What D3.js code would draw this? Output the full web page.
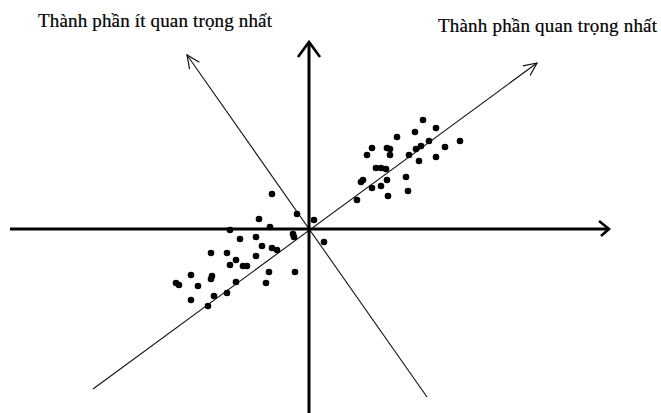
<!DOCTYPE html>
<html>
<head>
<meta charset="utf-8">
<script src="https://cdn.jsdelivr.net/npm/d3@7"></script>
<style>
  body { margin: 0; background: #fff; }
  svg { display: block; }
  .label { font-family: "Liberation Serif", "Times New Roman", serif; font-size: 19px; fill: #000; stroke: #000; stroke-width: 0.2px; }
</style>
</head>
<body>
<div id="chart"></div>
<script>
// values are offsets from the origin (x right, y up)
var upperX = [114, 106, 127, 88, 120, 151, 136, 107, 112, 63, 78, 81, 58, 81, 100, 127, 110, 67, 72, 77, 97, 54, 52, 78, 63, 72, 99, 79, 48];
var upperY = [109, 97, 101, 92, 88, 88, 82, 80, 83, 81, 81, 80, 74, 74, 74, 72, 68, 61, 61, 60, 52, 49, 47, 49, 41, 43, 38, 33, 29];

var lowerX = [-37, -12, -50, 5, -39, -79, -16, -15, 15, -69, -53, -47, -37, -32, -98, -82, -53, -73, -79, -66, -62, -40, -14, -118, -97, -98, -133, -130, -111, -73, -43, -118, -95, -82, -101];
var lowerY = [35, 15, 10, 9, 2, -1, -5, -8, -13, -10, -8, -17, -19, -21, -24, -24, -27, -31, -36, -37, -37, -43, -43, -46, -47, -50, -54, -56, -57, -53, -54, -71, -67, -64, -77];

// axis extents and the two component directions
var axisH = [[-299, 0], [300, 0]];
var axisV = [[0, -184], [0, 187]];
var pc1 = [[-216, -160], [228, 166]];
var pc2 = [[118, -168], [-122, 174]];

var labelPc2 = "Thành phần ít quan trọng nhất";
var labelPc1 = "Thành phần quan trọng nhất";

var chart = {
    w: 661,
    h: 413
};

chart.svg = d3.select("#chart")
    .append("svg")
    .attr("width", chart.w)
    .attr("height", chart.h);

chart.xScale = d3.scaleLinear()
    .domain([-309, 352])
    .range([0, chart.w]);

chart.yScale = d3.scaleLinear()
    .domain([-184, 229])
    .range([chart.h, 0]);

var defs = chart.svg.append("defs");

defs.append("marker")
    .attr("id", "thinArrow")
    .attr("markerUnits", "userSpaceOnUse")
    .attr("viewBox", "-16 -8 18 16")
    .attr("markerWidth", 18)
    .attr("markerHeight", 16)
    .attr("refX", 0)
    .attr("refY", 0)
    .attr("orient", "auto")
    .append("path")
    .attr("d", "M-13,-6L0,0L-13,6")
    .attr("fill", "none")
    .attr("stroke", "#111")
    .attr("stroke-width", 1.2);

defs.append("marker")
    .attr("id", "thickArrowV")
    .attr("markerUnits", "userSpaceOnUse")
    .attr("viewBox", "-18 -14 22 28")
    .attr("markerWidth", 22)
    .attr("markerHeight", 28)
    .attr("refX", 0)
    .attr("refY", 0)
    .attr("orient", "auto")
    .append("path")
    .attr("d", "M-15,-11L0,0L-15,11")
    .attr("fill", "none")
    .attr("stroke", "#000")
    .attr("stroke-width", 2.6);

defs.append("marker")
    .attr("id", "thickArrowH")
    .attr("markerUnits", "userSpaceOnUse")
    .attr("viewBox", "-14 -10 18 20")
    .attr("markerWidth", 18)
    .attr("markerHeight", 20)
    .attr("refX", 0)
    .attr("refY", 0)
    .attr("orient", "auto")
    .append("path")
    .attr("d", "M-10,-8L0,0L-8,7")
    .attr("fill", "none")
    .attr("stroke", "#000")
    .attr("stroke-width", 2.6);

var line = d3.line()
    .x(function (d) { return chart.xScale(d[0]); })
    .y(function (d) { return chart.yScale(d[1]); });

// component lines
chart.svg.append("path")
    .attr("d", line(pc1))
    .attr("fill", "none")
    .attr("stroke", "#111")
    .attr("stroke-width", 1.1)
    .attr("marker-end", "url(#thinArrow)");

chart.svg.append("path")
    .attr("d", line(pc2))
    .attr("fill", "none")
    .attr("stroke", "#111")
    .attr("stroke-width", 1.1)
    .attr("marker-end", "url(#thinArrow)");

// thick axes
chart.svg.append("path")
    .attr("d", line(axisH))
    .attr("fill", "none")
    .attr("stroke", "#000")
    .attr("stroke-width", 3)
    .attr("marker-end", "url(#thickArrowH)");

chart.svg.append("path")
    .attr("d", line(axisV))
    .attr("fill", "none")
    .attr("stroke", "#000")
    .attr("stroke-width", 3)
    .attr("marker-end", "url(#thickArrowV)");

var points = [];
upperX.forEach(function (x, i) { points.push([x, upperY[i]]); });
lowerX.forEach(function (x, i) { points.push([x, lowerY[i]]); });

chart.svg.selectAll("circle")
    .data(points)
    .enter().append("circle")
    .attr("r", 3.3)
    .attr("fill", "#000")
    .attr("cx", function (d) { return chart.xScale(d[0]); })
    .attr("cy", function (d) { return chart.yScale(d[1]); });

chart.svg.append("text")
    .attr("class", "label")
    .attr("x", 38)
    .attr("y", 27)
    .attr("textLength", 234)
    .attr("lengthAdjust", "spacing")
    .text(labelPc2);

chart.svg.append("text")
    .attr("class", "label")
    .attr("x", 438)
    .attr("y", 32)
    .attr("textLength", 219)
    .attr("lengthAdjust", "spacing")
    .text(labelPc1);
</script>
</body>
</html>
